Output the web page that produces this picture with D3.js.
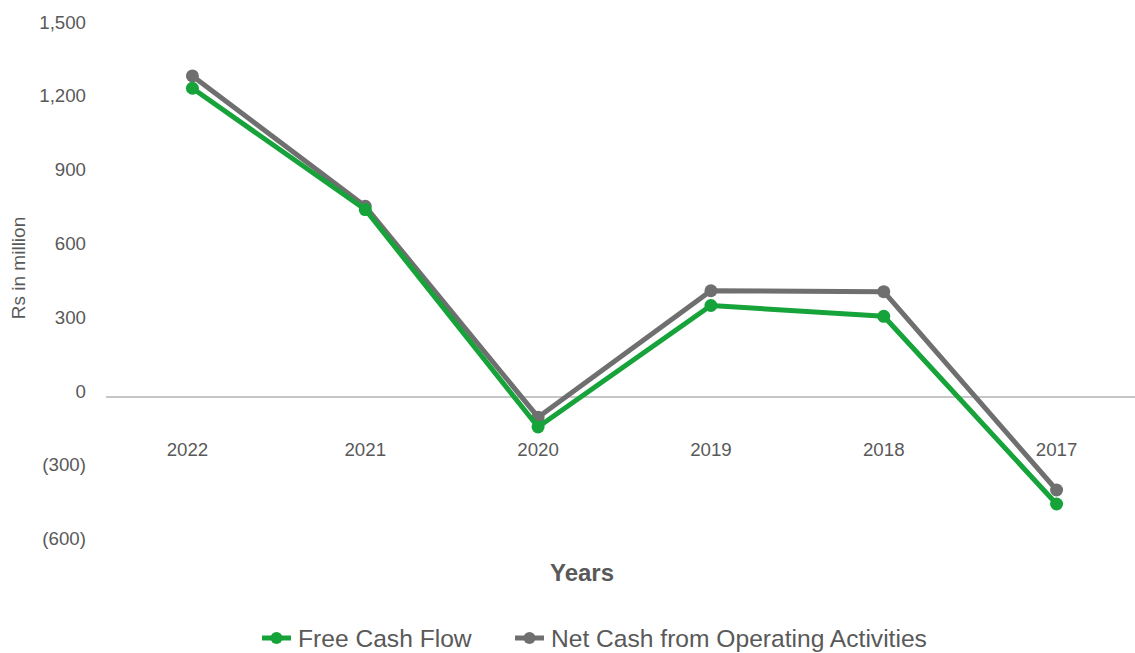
<!DOCTYPE html>
<html><head><meta charset="utf-8">
<script src="https://cdn.jsdelivr.net/npm/d3@7"></script>
<style>body{margin:0;background:#fff;font-family:"Liberation Sans",Arial,sans-serif;}</style>
</head><body><svg id="c" width="1135" height="653"></svg>
<script>
const years = ["2022","2021","2020","2019","2018","2017"];
const freeCashFlow = [1255, 762, -122, 372, 328, -435];
const netCashOps = [1305, 775, -82, 432, 428, -378];
const yTicks = [-600, -300, 0, 300, 600, 900, 1200, 1500];
const seriesNames = ["Free Cash Flow", "Net Cash from Operating Activities"];
const colors = ["#16a33a", "#6f6f6f"];

const svg = d3.select("#c");
const txt = "#595959";
const x = d3.scaleBand().domain(years).range([106, 1143]);
const y = d3.scaleLinear().domain([-600, 1500]).range([544.6, 28]);

// y labels
const fmt = v => v < 0 ? "(" + d3.format(",")(-v) + ")" : d3.format(",")(v);
svg.append("g").selectAll("text").data(yTicks).join("text")
  .attr("x", 86).attr("y", d => y(d) + 0.5)
  .attr("text-anchor", "end").attr("font-size", 18.7).attr("fill", txt)
  .text(fmt);

// zero axis line
svg.append("line").attr("x1", 106).attr("x2", 1143)
  .attr("y1", y(0)).attr("y2", y(0))
  .attr("stroke", "#c6c6c6").attr("stroke-width", 2);

// x labels
svg.append("g").selectAll("text").data(years).join("text")
  .attr("x", (d, i) => x(d) + x.bandwidth() / 2 - (i === 0 ? 5 : 0)).attr("y", 455.5)
  .attr("text-anchor", "middle").attr("font-size", 18.7).attr("fill", txt)
  .text(d => d);

// axis titles
svg.append("text").attr("x", 582).attr("y", 581).attr("text-anchor", "middle")
  .attr("font-size", 24).attr("font-weight", "bold").attr("fill", txt).text("Years");
svg.append("text").attr("transform", "translate(25,268) rotate(-90)")
  .attr("text-anchor", "middle").attr("font-size", 19).attr("fill", txt).text("Rs in million");

// series
const data = [freeCashFlow, netCashOps];
const line = d3.line().x((d, i) => x(years[i]) + x.bandwidth() / 2).y(d => y(d));
[1, 0].forEach(s => {
  const g = svg.append("g");
  g.append("path").datum(data[s]).attr("d", line).attr("fill", "none")
    .attr("stroke", colors[s]).attr("stroke-width", 5).attr("stroke-linejoin", "round");
  g.selectAll("circle").data(data[s]).join("circle")
    .attr("cx", (d, i) => x(years[i]) + x.bandwidth() / 2).attr("cy", d => y(d))
    .attr("r", 6.5).attr("fill", colors[s]);
});

// legend
const legX = [262, 515];
seriesNames.forEach((n, i) => {
  const g = svg.append("g").attr("transform", `translate(${legX[i]},638)`);
  g.append("line").attr("x1", 0).attr("x2", 29).attr("y1", 0).attr("y2", 0)
    .attr("stroke", colors[i]).attr("stroke-width", 5);
  g.append("circle").attr("cx", 14.5).attr("cy", 0).attr("r", 6).attr("fill", colors[i]);
  g.append("text").attr("x", 36).attr("y", 8.5).attr("font-size", 24.6).attr("fill", txt).text(n);
});
</script></body></html>
